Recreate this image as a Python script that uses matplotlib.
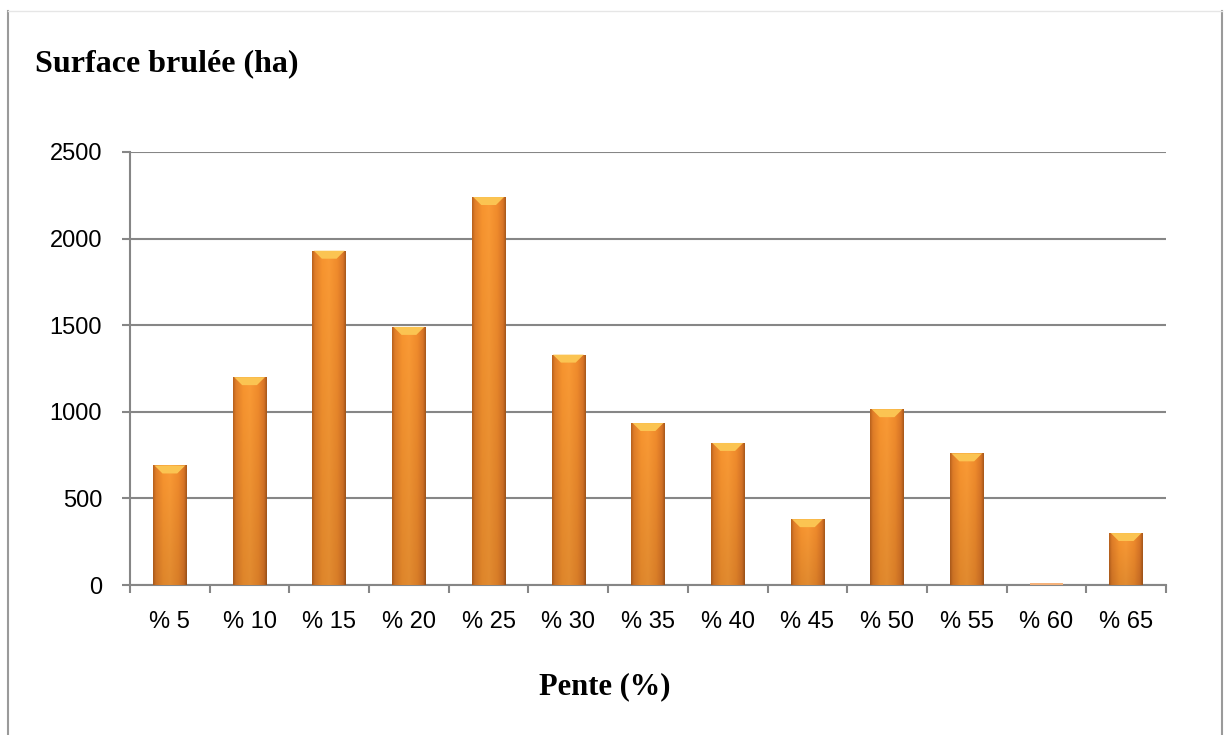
import numpy as np
import matplotlib
matplotlib.use("Agg")
import matplotlib.pyplot as plt
from matplotlib.colors import LinearSegmentedColormap
from matplotlib.patches import Polygon
from matplotlib.lines import Line2D

# data
pentes = ["% 5", "% 10", "% 15", "% 20", "% 25", "% 30", "% 35",
          "% 40", "% 45", "% 50", "% 55", "% 60", "% 65"]
surface = [690, 1200, 1930, 1490, 2240, 1330, 935, 820, 380, 1015, 760, 12, 300]
yticks = [0, 500, 1000, 1500, 2000, 2500]

W, H = 1229, 735
fig = plt.figure(figsize=(W / 100, H / 100), dpi=100)
ax = fig.add_axes([130 / W, 1 - 585 / H, (1166 - 130) / W, (585 - 152) / H])

grey = "#868686"
x = np.arange(len(pentes))
bars = ax.bar(x, surface, width=0.42, color="#EE8A2C", zorder=3,
              edgecolor="none")

# shaded orange fill, darker at the sides and bottom
cmap = LinearSegmentedColormap.from_list(
    "orange", [(0, "#B9621E"), (0.08, "#E07D28"), (0.3, "#F7942F"),
               (0.5, "#FA9A35"), (0.75, "#F08B2C"), (0.92, "#D97527"),
               (1, "#A9591B")])
prof = np.linspace(0, 1, 80)
for b in bars:
    bx, bw, bh = b.get_x(), b.get_width(), b.get_height()
    if bh < 40:
        b.set_facecolor("#F6B27A")
        continue
    vert = np.linspace(0.9, 1.0, 50)[:, None]
    img = cmap(prof)[None, :, :3] * vert[..., None]
    im = ax.imshow(img, extent=[bx, bx + bw, 0, bh], origin="lower",
                   aspect="auto", zorder=4, interpolation="bilinear")
    im.set_clip_path(b)
    d = min(46, bh * 0.3)
    bevel = Polygon([[bx + bw * 0.04, bh], [bx + bw * 0.96, bh],
                     [bx + bw * 0.72, bh - d], [bx + bw * 0.28, bh - d]],
                    closed=True, facecolor="#FBC452", edgecolor="none",
                    zorder=5)
    ax.add_patch(bevel)

ax.set_xlim(-0.5, len(pentes) - 0.5)
ax.set_ylim(0, 2500)
ax.set_yticks(yticks)
ax.set_xticks(x)
ax.set_xticklabels(pentes)
ax.set_xticks(np.arange(len(pentes) + 1) - 0.5, minor=True)
ax.tick_params(axis="x", which="major", length=0, pad=19, labelsize=17)
ax.tick_params(axis="x", which="minor", length=6, width=1.5, color=grey,
               direction="out")
ax.tick_params(axis="y", length=6, width=1.5, color=grey, direction="out",
               pad=14, labelsize=17)
for lab in ax.get_xticklabels() + ax.get_yticklabels():
    lab.set_family("Liberation Sans")

ax.yaxis.grid(True, color=grey, lw=1.5, zorder=0)
ax.set_axisbelow(True)
for s in ["top", "right"]:
    ax.spines[s].set_visible(False)
for s in ["left", "bottom"]:
    ax.spines[s].set_color(grey)
    ax.spines[s].set_linewidth(1.5)

fig.text(35 / W, 1 - 71 / H, "Surface brulée (ha)", family="Liberation Serif",
         fontweight="bold", fontsize=23, ha="left", va="baseline")
fig.text(605 / W, 1 - 687 / H, "Pente (%)", family="Liberation Serif",
         fontweight="bold", fontsize=22, ha="center", va="center")

# chart frame
fig.add_artist(Line2D([8 / W, 8 / W], [0, 1 - 11 / H], color="#9a9a9a",
                      lw=1.5, transform=fig.transFigure))
fig.add_artist(Line2D([1222 / W, 1222 / W], [0, 1 - 11 / H], color="#9a9a9a",
                      lw=1.5, transform=fig.transFigure))
fig.add_artist(Line2D([8 / W, 1222 / W], [1 - 11 / H, 1 - 11 / H],
                      color="#e6e6e6", lw=1, transform=fig.transFigure))

fig.savefig("out.png", dpi=100)
